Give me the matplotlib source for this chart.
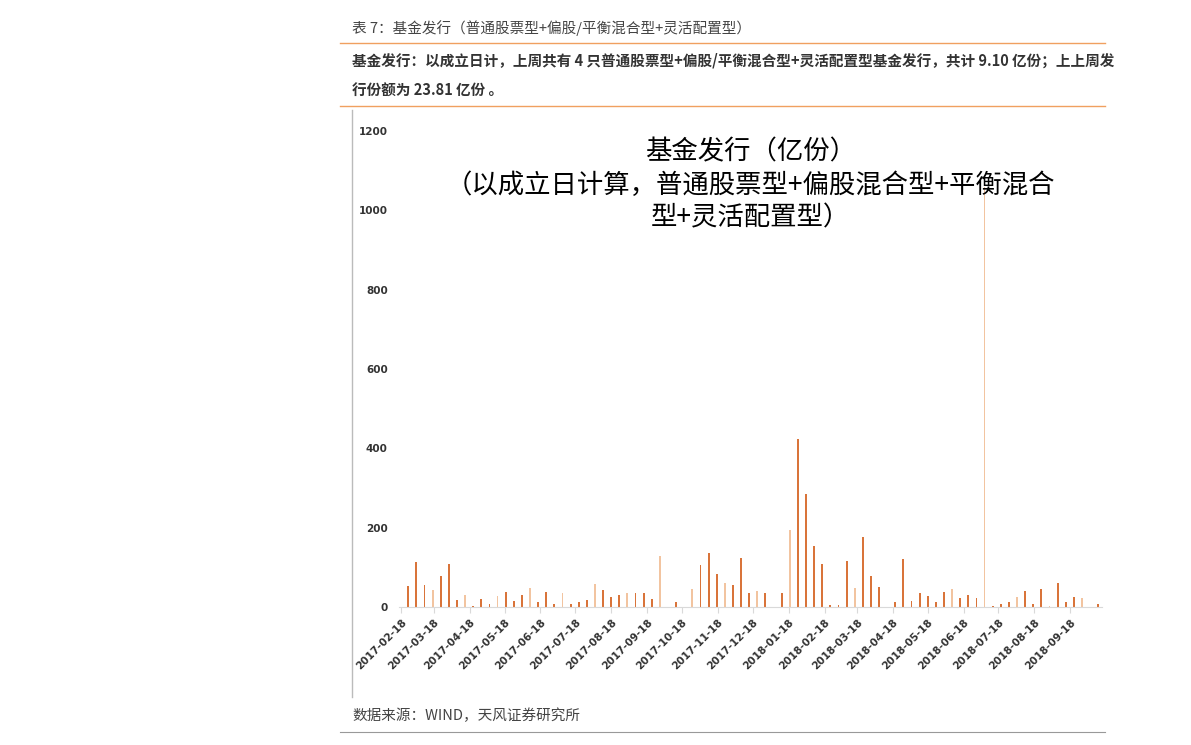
import pandas as pd
import matplotlib.pyplot as plt
import matplotlib.dates as mdates
from matplotlib.lines import Line2D

plt.rcParams['font.family'] = ['Noto Sans CJK SC', 'DejaVu Sans']

# 每周发行份额（亿份），按周排列
start_date = '2017-02-24'
values = [54, 113, 56, 44, 78, 110, 17, 31, 3, 21, 7, 29, 39, 16, 30, 48,
          13, 39, 9, 36, 8, 13, 18, 59, 44, 26, 30, 35, 35, 35, 21, 130,
          0, 14, 0, 46, 107, 137, 84, 62, 55, 123, 36, 42, 36, 0, 36, 195,
          423, 286, 155, 109, 5, 6, 116, 48, 177, 79, 50, 0, 14, 121, 16, 36,
          29, 12, 39, 46, 22, 31, 24, 1060, 3, 8, 13, 25, 40, 8, 45, 3,
          62, 13, 26, 24, 0, 8]
light = [3, 7, 11, 15, 19, 23, 27, 31, 35, 39, 43, 47, 55, 59, 67, 71, 75, 79, 83]

dates = pd.date_range(start_date, periods=len(values), freq='7D')
colors = ['#f2c4a0' if i in light else '#d9743a' for i in range(len(values))]

fig = plt.figure(figsize=(11.91, 7.45), dpi=100)
ax = fig.add_axes([0.335, 0.185, 0.59, 0.639])
ax.bar(dates, values, width=1.6, color=colors)

ax.set_ylim(0, 1200)
ax.set_yticks(range(0, 1201, 200))
ax.set_xlim(dates[0] - pd.Timedelta(days=8), dates[-1] + pd.Timedelta(days=3))
ax.xaxis.set_major_locator(mdates.MonthLocator(bymonthday=18))
ax.xaxis.set_major_formatter(mdates.DateFormatter('%Y-%m-%d'))
for lab in ax.get_xticklabels():
    lab.set_rotation(45)
    lab.set_ha('right')
    lab.set_rotation_mode('anchor')
ax.tick_params(axis='x', labelsize=7.5, colors='#d9d9d9', labelcolor='#333333', length=4)
ax.tick_params(axis='y', labelsize=7.5, length=0, labelcolor='#333333', pad=8)
for lab in ax.get_xticklabels() + ax.get_yticklabels():
    lab.set_fontweight('bold')
    lab.set_fontfamily('DejaVu Sans')
for s in ['top', 'right', 'left']:
    ax.spines[s].set_visible(False)
ax.spines['bottom'].set_color('#d9d9d9')

ax.text(0.5, 0.985, '基金发行（亿份）', transform=ax.transAxes, ha='center', va='top', fontsize=19)
ax.text(0.5, 0.915, '（以成立日计算，普通股票型+偏股混合型+平衡混合', transform=ax.transAxes,
        ha='center', va='top', fontsize=19)
ax.text(0.5, 0.845, '型+灵活配置型）', transform=ax.transAxes, ha='center', va='top', fontsize=19)

# 页面框架
fig.add_artist(Line2D([352/1191, 352/1191], [1-110/745, 1-697/745], color='#bbbbbb', lw=1))
fig.add_artist(Line2D([340/1191, 1105/1191], [1-43/745, 1-43/745], color='#f0a060', lw=1))
fig.add_artist(Line2D([340/1191, 1105/1191], [1-106/745, 1-106/745], color='#f0a060', lw=1))
fig.add_artist(Line2D([340/1191, 1105/1191], [1-732/745, 1-732/745], color='#999999', lw=0.8))

fig.text(352/1191, 1-28/745, '表 7：基金发行（普通股票型+偏股/平衡混合型+灵活配置型）', fontsize=10.5,
         color='#444444', va='center')
fig.text(352/1191, 1-60/745, '基金发行：以成立日计，上周共有 4 只普通股票型+偏股/平衡混合型+灵活配置型基金发行，共计 9.10 亿份；上上周发',
         fontsize=10.5, color='#333333', fontweight='bold', va='center')
fig.text(352/1191, 1-91/745, '行份额为 23.81 亿份 。', fontsize=10.5, color='#333333', fontweight='bold', va='center')
fig.text(352/1191, 1-716/745, '数据来源：WIND，天风证券研究所', fontsize=10.5, color='#444444', va='center')

plt.savefig('out.png', dpi=100)
